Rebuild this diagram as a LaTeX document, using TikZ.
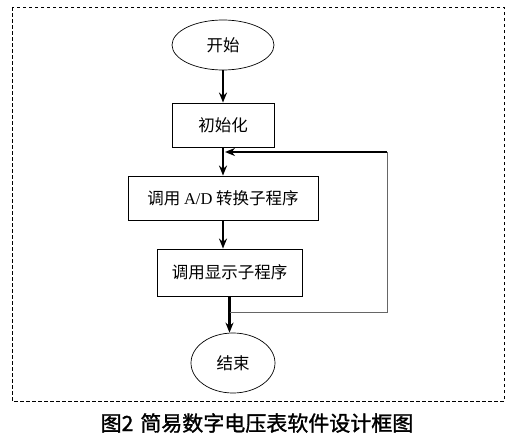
\documentclass[tikz,border=0pt]{standalone}
\usepackage{fontspec}
\setmainfont{Liberation Serif}
\newfontfamily\cjk{Noto Sans CJK SC}
\newfontfamily\cjkb[FakeBold=1.4]{Noto Sans CJK SC}
\usetikzlibrary{shapes.geometric,arrows.meta}
\begin{document}
\begin{tikzpicture}[x=1pt,y=-1pt,
  box/.style={draw,line width=0.9pt,inner sep=0pt,font=\fontsize{16.5}{18}\selectfont\cjk},
  oval/.style={draw,line width=0.7pt,ellipse,inner sep=0pt,font=\fontsize{16.5}{18}\selectfont\cjk},
  flow/.style={line width=2.2pt,-{Stealth[length=10pt,width=8pt]}},
  loopline/.style={line width=1pt,draw=black!60}]
\useasboundingbox (0,0) rectangle (528,439);
\draw[dashed,line width=0.7pt,dash pattern=on 3.5pt off 2.5pt] (12,7) rectangle (504,401);
\node[oval,minimum width=102pt,minimum height=50pt] (start) at (223,45) {开始};
\node[box,minimum width=102pt,minimum height=44pt] (init) at (223,125) {初始化};
\node[box,minimum width=190pt,minimum height=44pt] (ad) at (223,198) {\cjk 调用 {\rmfamily A/D} 转换子程序};
\node[box,minimum width=145pt,minimum height=47pt] (disp) at (229.5,272.5) {调用显示子程序};
\node[oval,minimum width=84pt,minimum height=60pt] (end) at (233,363) {结束};
\coordinate (fbT) at (387,152);
\coordinate (fbB) at (387,312);
\coordinate (j) at (229.5,312);
\draw[flow] (start) -- (init);
\draw[flow] (init) -- (ad);
\draw[flow] (ad.south -| init) -- (ad.south |- disp.north);
\draw[flow] (disp.south) -- (disp.south |- end.north);
\draw[loopline] (j) -- (fbB) -- (fbT);
\draw[flow] (fbT) -- ([xshift=2pt]init.south |- fbT);
\node[font=\fontsize{21}{24}\selectfont\cjkb] (cap) at (257,423) {图2\hspace{7pt}简易数字电压表软件设计框图};
\end{tikzpicture}
\end{document}
